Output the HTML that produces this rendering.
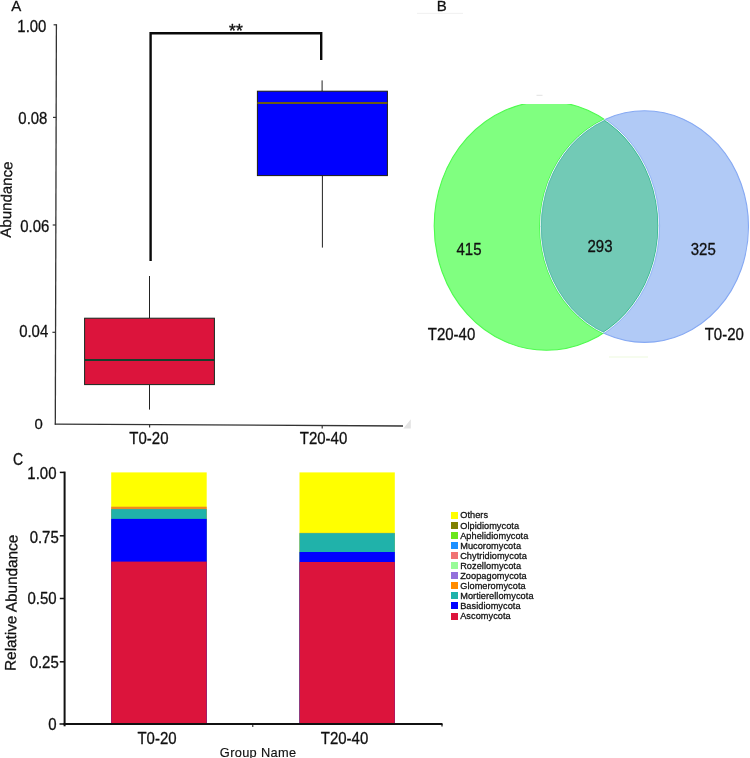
<!DOCTYPE html>
<html>
<head>
<meta charset="utf-8">
<title>Figure</title>
<style>
html,body{margin:0;padding:0;background:#fff;}
body{width:750px;height:758px;overflow:hidden;font-family:"Liberation Sans",sans-serif;}
svg{display:block;}
text{font-family:"Liberation Sans",sans-serif;fill:#111;stroke:#111;stroke-width:0.28px;stroke-linejoin:round;}
</style>
</head>
<body>
<svg width="750" height="758" viewBox="0 0 750 758" style="will-change:transform">
<rect x="0" y="0" width="750" height="758" fill="#ffffff"/>

<!-- ================= PANEL A ================= -->
<g id="panelA">
<text x="11.2" y="10.8" font-size="15">A</text>
<!-- axes -->
<line x1="56.4" y1="24.3" x2="55.3" y2="424.7" stroke="#333" stroke-width="1.3"/>
<line x1="54.8" y1="424.1" x2="403" y2="426" stroke="#333" stroke-width="1.3"/>
<polygon points="403.4,428.5 410.8,428.5 410.8,419.3" fill="#e3e3e3"/>
<!-- y ticks -->
<g stroke="#333" stroke-width="1.2">
<line x1="53.6" y1="24.8" x2="56.6" y2="24.8"/>
<line x1="53" y1="117.4" x2="56.2" y2="117.4"/>
<line x1="52.7" y1="225" x2="55.9" y2="225"/>
<line x1="52.4" y1="332.3" x2="55.6" y2="332.3"/>
<line x1="149.6" y1="424.5" x2="149.6" y2="427.5"/>
<line x1="322.2" y1="425.5" x2="322.2" y2="428.5"/>
</g>
<g font-size="15.8" text-anchor="end">
<text transform="translate(46.4,31.7) scale(0.945,1)">1.00</text>
<text transform="translate(47.4,124) scale(0.945,1)">0.08</text>
<text transform="translate(49.3,232.2) scale(0.945,1)">0.06</text>
<text transform="translate(48.2,337.4) scale(0.945,1)">0.04</text>
<text transform="translate(42.8,428.8) scale(0.945,0.97)">0</text>
</g>
<text font-size="15" text-anchor="middle" transform="translate(11.5,199.7) rotate(-88.75)">Abundance</text>
<g font-size="15" text-anchor="middle">
<text transform="translate(148.9,444.3) scale(1,1.15)">T0-20</text>
<text transform="translate(323.5,444.3) scale(1,1.15)">T20-40</text>
</g>
<!-- significance bracket -->
<path d="M150.6,261 V33.2 H321.2 V60" fill="none" stroke="#0a0a0a" stroke-width="2.4"/>
<text x="235.9" y="36.7" font-size="17.5" text-anchor="middle" style="stroke-width:0.4px">**</text>
<!-- red box -->
<line x1="149.5" y1="276" x2="149.5" y2="318" stroke="#222" stroke-width="1"/>
<line x1="149.5" y1="385" x2="149.5" y2="409.6" stroke="#222" stroke-width="1"/>
<rect x="84.6" y="318.2" width="129.8" height="66.4" fill="#DC143C" stroke="#14281e" stroke-width="1"/>
<line x1="84.5" y1="360" x2="214.5" y2="360" stroke="#16402c" stroke-width="1.9"/>
<!-- blue box -->
<line x1="322.1" y1="80.4" x2="322.1" y2="91" stroke="#222" stroke-width="1"/>
<line x1="322.4" y1="175.6" x2="322.4" y2="247.6" stroke="#222" stroke-width="1"/>
<rect x="257.4" y="91.2" width="130" height="84.4" fill="#0000FF" stroke="#1c1c10" stroke-width="1"/>
<line x1="257.4" y1="103" x2="387.4" y2="103" stroke="#6a5a14" stroke-width="1.9"/>
</g>

<!-- ================= PANEL B ================= -->
<g id="panelB">
<text x="436.7" y="10.8" font-size="15">B</text>
<line x1="417" y1="13.4" x2="463" y2="13.4" stroke="#ececec" stroke-width="0.8"/>
<line x1="536.5" y1="95.3" x2="542.5" y2="95.3" stroke="#dedede" stroke-width="0.9"/>
<line x1="609" y1="357" x2="648" y2="357" stroke="#f3fbe9" stroke-width="1.6"/>
<defs>
<clipPath id="gclip"><rect x="400" y="104" width="350" height="300"/></clipPath>
<clipPath id="bclip"><ellipse cx="644.5" cy="226.6" rx="104" ry="115.8"/></clipPath>
</defs>
<clipPath id="gell"><ellipse cx="546.5" cy="225.9" rx="112.3" ry="124.4"/></clipPath>
<g clip-path="url(#gclip)">
<ellipse cx="546.5" cy="225.9" rx="112.3" ry="124.4" fill="#80FF80" stroke="#4dfb4d" stroke-width="1.1"/>
</g>
<ellipse cx="644.5" cy="226.6" rx="104" ry="115.8" fill="#B1CAF6" stroke="#86a9f3" stroke-width="1.1"/>
<!-- lens -->
<g clip-path="url(#bclip)">
<ellipse cx="546.5" cy="225.9" rx="112.3" ry="124.4" fill="#72CAB6"/>
<ellipse cx="546.5" cy="225.9" rx="111.5" ry="123.6" fill="none" stroke="#2fb58b" stroke-width="0.9"/>
<ellipse cx="546.5" cy="225.9" rx="112.3" ry="124.4" fill="none" stroke="#fafdfc" stroke-width="0.95"/>
<ellipse cx="546.5" cy="225.9" rx="113.1" ry="125.2" fill="none" stroke="#8cb0f5" stroke-width="0.8"/>
</g>
<g clip-path="url(#gell)">
<g clip-path="url(#gclip)">
<ellipse cx="644.5" cy="226.6" rx="104.8" ry="116.6" fill="none" stroke="#3cf93c" stroke-width="0.8"/>
<ellipse cx="644.5" cy="226.6" rx="104" ry="115.8" fill="none" stroke="#fafdfc" stroke-width="0.95"/>
<ellipse cx="644.5" cy="226.6" rx="103.2" ry="115" fill="none" stroke="#4fb8a8" stroke-width="0.8"/>
</g>
</g>
<g font-size="15" text-anchor="middle">
<text transform="translate(469,254.8) scale(1,1.15)">415</text>
<text transform="translate(600,252.2) scale(1,1.15)">293</text>
<text transform="translate(703.3,254.8) scale(1,1.15)">325</text>
<text transform="translate(451.5,340.2) scale(1,1.15)">T20-40</text>
<text transform="translate(724.3,340.2) scale(1,1.15)">T0-20</text>
</g>
</g>

<!-- ================= PANEL C ================= -->
<g id="panelC">
<text transform="translate(13.1,464.6) scale(1,1.16)" font-size="14">C</text>
<!-- bars -->
<g>
<rect x="111.2" y="472.4" width="95.5" height="251.6" fill="#FFFF00"/>
<rect x="111.2" y="506.7" width="95.5" height="217.3" fill="#EE8A22"/>
<rect x="111.2" y="509.1" width="95.5" height="214.9" fill="#20B2AA"/>
<rect x="111.2" y="518.9" width="95.5" height="205.1" fill="#0000FF"/>
<rect x="111.2" y="561.6" width="95.5" height="162.4" fill="#DC143C"/>

<rect x="299.5" y="472.4" width="95.3" height="251.6" fill="#FFFF00"/>
<rect x="299.5" y="532.8" width="95.3" height="191.2" fill="#C8B040"/>
<rect x="299.5" y="533.2" width="95.3" height="190.8" fill="#20B2AA"/>
<rect x="299.5" y="552" width="95.3" height="172" fill="#0000FF"/>
<rect x="299.5" y="562" width="95.3" height="162" fill="#DC143C"/>
</g>
<!-- axes -->
<line x1="64.6" y1="471.6" x2="64.6" y2="726.3" stroke="#111" stroke-width="2"/>
<line x1="63.5" y1="724" x2="442.5" y2="724" stroke="#111" stroke-width="1.8"/>
<g stroke="#111" stroke-width="1.5">
<line x1="59.8" y1="472.4" x2="64.4" y2="472.4"/>
<line x1="59.8" y1="535.8" x2="64.4" y2="535.8"/>
<line x1="59.8" y1="598.5" x2="64.4" y2="598.5"/>
<line x1="59.8" y1="661.8" x2="64.4" y2="661.8"/>
<line x1="59.5" y1="724" x2="64.4" y2="724"/>
<line x1="252.8" y1="724" x2="252.8" y2="727" stroke-width="1"/>
<line x1="442" y1="724" x2="442" y2="726.5" stroke-width="1.2"/>
</g>
<g font-size="15" text-anchor="end">
<text transform="translate(56.5,479.2) scale(1.0,1.09)">1.00</text>
<text transform="translate(58.8,543.4) scale(1.0,1.09)">0.75</text>
<text transform="translate(56.7,603.5) scale(1.0,1.09)">0.50</text>
<text transform="translate(58.8,668.3) scale(1.0,1.09)">0.25</text>
<text transform="translate(56.7,729.6) scale(1.0,1.09)">0</text>
</g>
<text font-size="15.3" text-anchor="middle" transform="translate(16.6,602.9) rotate(-89.15)">Relative Abundance</text>
<g font-size="15" text-anchor="middle">
<text transform="translate(157,743.6) scale(1,1.15)">T0-20</text>
<text transform="translate(344.5,743.6) scale(1,1.15)">T20-40</text>
</g>
<text x="258.1" y="756.6" font-size="12.8" text-anchor="middle" letter-spacing="0.32" style="stroke-width:0.15px">Group Name</text>

<!-- legend -->
<g shape-rendering="crispEdges">
<rect x="451" y="511.5" width="7" height="7" fill="#FFFF00"/>
<rect x="451" y="521.6" width="7" height="7" fill="#808000"/>
<rect x="451" y="531.7" width="7" height="7" fill="#6CE61C"/>
<rect x="451" y="541.8" width="7" height="7" fill="#1E90FF"/>
<rect x="451" y="551.9" width="7" height="7" fill="#F07474"/>
<rect x="451" y="562" width="7" height="7" fill="#98FB98"/>
<rect x="451" y="572.1" width="7" height="7" fill="#9370DB"/>
<rect x="451" y="582.2" width="7" height="7" fill="#FF8C00"/>
<rect x="451" y="592.3" width="7" height="7" fill="#20B2AA"/>
<rect x="451" y="602.4" width="7" height="7" fill="#0000FF"/>
<rect x="451" y="612.5" width="7" height="7" fill="#DC143C"/>
</g>
<g font-size="9.2" letter-spacing="0.05" style="stroke-width:0.22px">
<text x="460.2" y="518.4">Others</text>
<text x="460.2" y="528.5">Olpidiomycota</text>
<text x="460.2" y="538.6">Aphelidiomycota</text>
<text x="460.2" y="548.7">Mucoromycota</text>
<text x="460.2" y="558.8">Chytridiomycota</text>
<text x="460.2" y="568.9">Rozellomycota</text>
<text x="460.2" y="579">Zoopagomycota</text>
<text x="460.2" y="589.1">Glomeromycota</text>
<text x="460.2" y="599.2">Mortierellomycota</text>
<text x="460.2" y="609.3">Basidiomycota</text>
<text x="460.2" y="619.4">Ascomycota</text>
</g>
</g>
</svg>
</body>
</html>
